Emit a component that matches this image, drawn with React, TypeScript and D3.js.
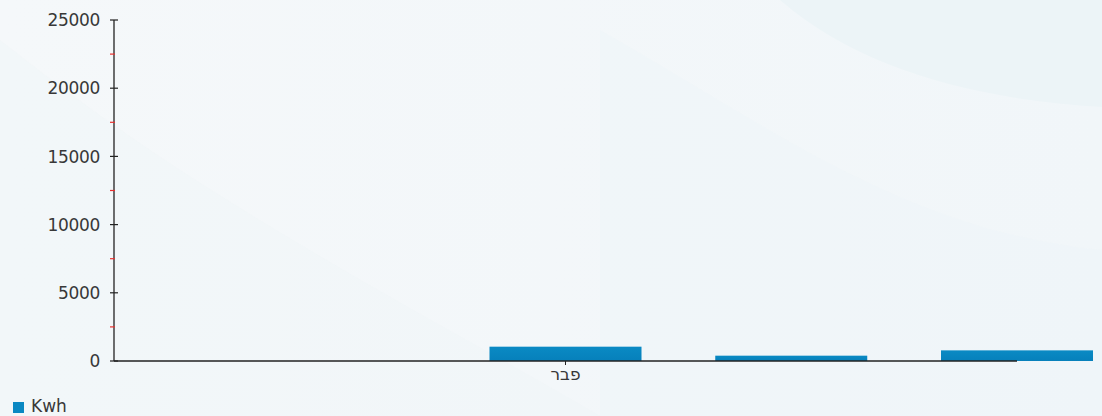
import React from "react";
import * as d3 from "d3";

const W = 1102;
const H = 416;

// category slots (only one labelled in the picture)
const slots = [0, 1, 2, 3, 4];
const slotLabels = ["", "", "פבר", "", ""];
// bars placed on slots 2..4
const barSlots = [2, 3, 4];
const barValues = [1050, 390, 780];
const yTicks = [0, 5000, 10000, 15000, 20000, 25000];
const yMinorTicks = [2500, 7500, 12500, 17500, 22500];
const seriesName = "Kwh";

export default function App() {
  const left = 114;
  const axisRight = 1017;
  const top = 20;
  const bottom = 361;

  const x = d3.scalePoint<number>().domain(slots).range([left, axisRight]);
  const y = d3.scaleLinear().domain([0, 25000]).range([bottom, top]);
  const barW = 152;
  const font = "'DejaVu Sans', sans-serif";

  return (
    <svg
      width={W}
      height={H}
      style={{ position: "absolute", left: 0, top: 0 }}
    >
      <defs>
        <linearGradient id="bg" x1="0" y1="0" x2="1" y2="0">
          <stop offset="0" stopColor="#f5f8fa" />
          <stop offset="1" stopColor="#f1f6f9" />
        </linearGradient>
        <linearGradient id="bar" x1="0" y1="0" x2="0" y2="1">
          <stop offset="0" stopColor="#0a8ac4" />
          <stop offset="1" stopColor="#0680bb" />
        </linearGradient>
      </defs>
      <rect x={0} y={0} width={W} height={H} fill="url(#bg)" />
      {/* soft swooshes */}
      <path
        d="M600,30 C760,120 900,230 1102,250 L1102,416 L600,416 Z"
        fill="#eef5f8"
        opacity={0.6}
      />
      <path
        d="M780,0 C860,70 980,100 1102,107 L1102,0 Z"
        fill="#ecf4f7"
      />
      <path
        d="M0,40 C200,200 400,300 600,416 L0,416 Z"
        fill="#f0f5f8"
        opacity={0.5}
      />

      {/* bars */}
      {barSlots.map((s, i) => (
        <rect
          key={i}
          x={(x(s) as number) - barW / 2}
          y={y(barValues[i])}
          width={barW}
          height={bottom - y(barValues[i])}
          fill="url(#bar)"
        />
      ))}

      {/* y axis */}
      <line x1={left} x2={left} y1={top} y2={bottom} stroke="#222" strokeWidth={1.3} />
      {yTicks.map((t) => (
        <g key={t}>
          <line x1={left - 4} x2={left + 4} y1={y(t)} y2={y(t)} stroke="#222" strokeWidth={1.2} />
          <text
            x={100}
            y={y(t)}
            dy="0.36em"
            textAnchor="end"
            fontFamily={font}
            fontSize={17}
            letterSpacing={-0.3}
            fill="#383838"
          >
            {t}
          </text>
        </g>
      ))}
      {yMinorTicks.map((t) => (
        <line key={t} x1={left - 4} x2={left + 1} y1={y(t)} y2={y(t)} stroke="#e8302f" strokeWidth={1.2} />
      ))}

      {/* x axis */}
      <line x1={left} x2={axisRight} y1={bottom} y2={bottom} stroke="#222" strokeWidth={1.3} />
      {slots
        .filter((s) => slotLabels[s] !== "")
        .map((s) => (
          <g key={s}>
            <line x1={x(s)} x2={x(s)} y1={bottom} y2={bottom + 4} stroke="#222" strokeWidth={1} />
            <text
              x={x(s)}
              y={380}
              textAnchor="middle"
              fontFamily={font}
              fontSize={17}
              fill="#383838"
            >
              {slotLabels[s]}
            </text>
          </g>
        ))}

      {/* legend */}
      <rect x={13} y={402} width={11} height={11} fill="#0a88c2" />
      <text x={31} y={412} fontFamily={font} fontSize={17} fill="#383838">
        {seriesName}
      </text>
    </svg>
  );
}
